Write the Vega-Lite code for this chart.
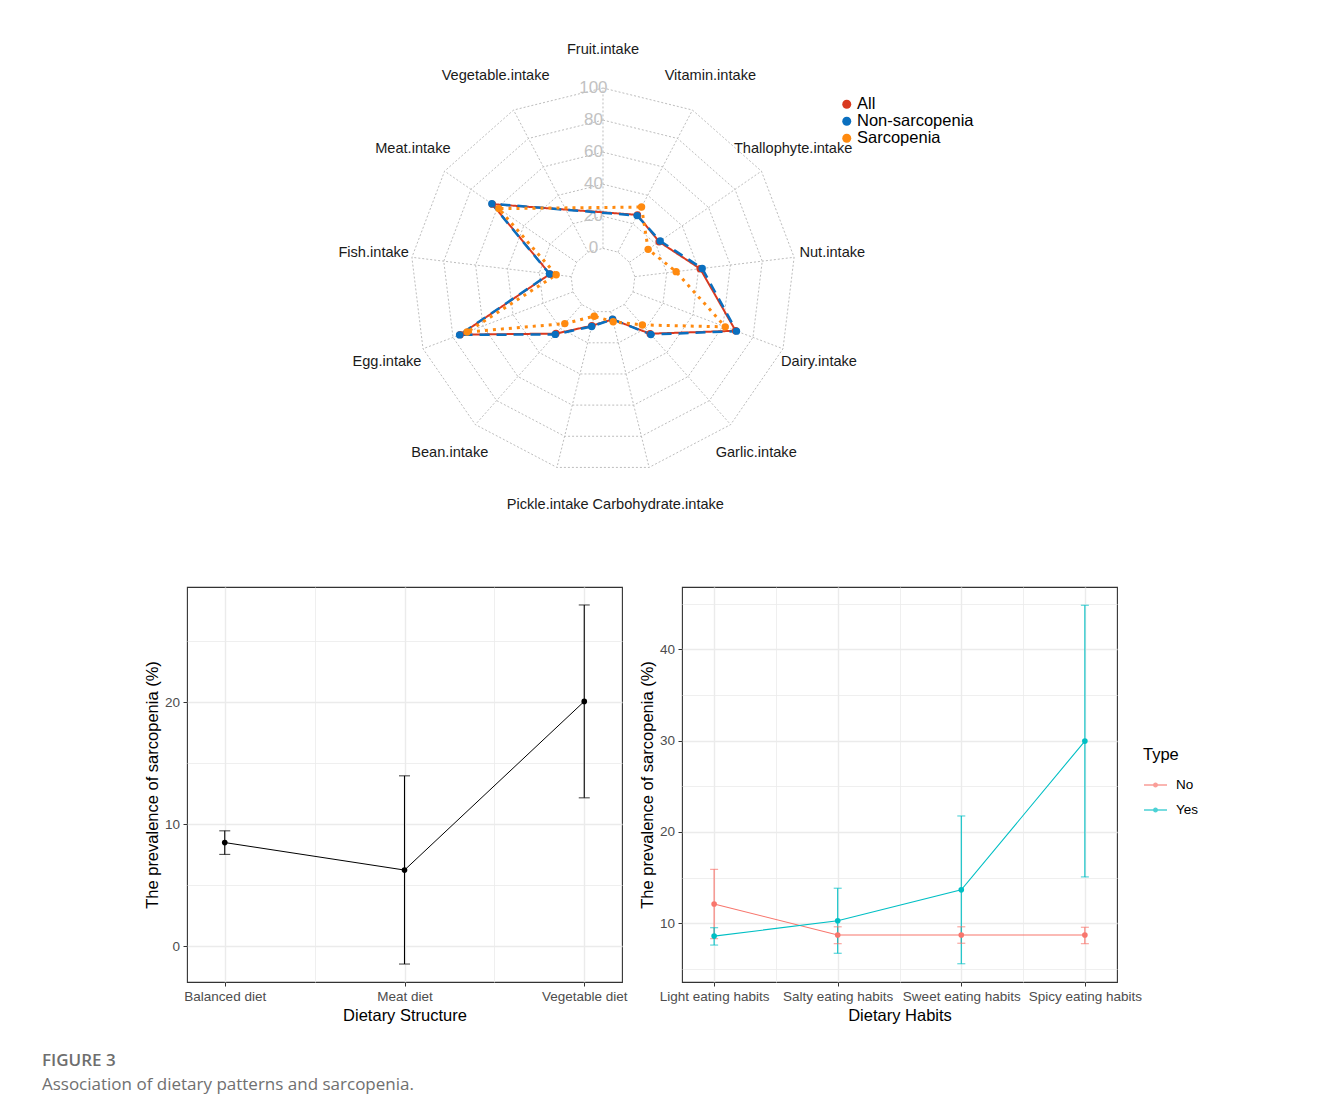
{
  "$schema": "https://vega.github.io/schema/vega-lite/v6.json",
  "background": "white",
  "padding": {"left": 41, "top": 30, "right": 5, "bottom": 5},
  "config": {
    "font": "Liberation Sans",
    "view": {"stroke": null},
    "axis": {
      "labelFont": "Liberation Sans", "labelFontSize": 13.5, "labelColor": "#4D4D4D",
      "titleFont": "Liberation Sans", "titleFontSize": 16.5, "titleColor": "#000000", "titleFontWeight": "normal",
      "tickColor": "#333333", "tickSize": 4, "tickWidth": 1, "domain": false,
      "gridColor": "#EBEBEB", "labelPadding": 3.5, "titlePadding": 4,
      "labelOverlap": false, "labelFlush": false
    }
  },
  "title": {
    "text": "FIGURE 3",
    "subtitle": "Association of dietary patterns and sarcopenia.",
    "orient": "bottom", "anchor": "start", "frame": "bounds",
    "dx": -102, "offset": 29,
    "font": "Open Sans", "fontSize": 17, "fontWeight": 600, "color": "#6E6E6E",
    "subtitleFont": "Open Sans", "subtitleFontSize": 17, "subtitleColor": "#707070", "subtitlePadding": 7
  },
  "datasets": {
    "axes": [
      {"axis": "Fruit.intake", "k": 0},
      {"axis": "Vitamin.intake", "k": 1},
      {"axis": "Thallophyte.intake", "k": 2},
      {"axis": "Nut.intake", "k": 3},
      {"axis": "Dairy.intake", "k": 4},
      {"axis": "Garlic.intake", "k": 5},
      {"axis": "Carbohydrate.intake", "k": 6},
      {"axis": "Pickle.intake", "k": 7},
      {"axis": "Bean.intake", "k": 8},
      {"axis": "Egg.intake", "k": 9},
      {"axis": "Fish.intake", "k": 10},
      {"axis": "Meat.intake", "k": 11},
      {"axis": "Vegetable.intake", "k": 12}
    ],
    "levels": [
      {"level": 0, "ks": [0,1,2,3,4,5,6,7,8,9,10,11,12]},
      {"level": 20, "ks": [0,1,2,3,4,5,6,7,8,9,10,11,12]},
      {"level": 40, "ks": [0,1,2,3,4,5,6,7,8,9,10,11,12]},
      {"level": 60, "ks": [0,1,2,3,4,5,6,7,8,9,10,11,12]},
      {"level": 80, "ks": [0,1,2,3,4,5,6,7,8,9,10,11,12]},
      {"level": 100, "ks": [0,1,2,3,4,5,6,7,8,9,10,11,12]}
    ],
    "radar": [
      {"series": "All", "axis": "Vitamin.intake", "k": 1, "value": 26.2},
      {"series": "All", "axis": "Thallophyte.intake", "k": 2, "value": 22.5},
      {"series": "All", "axis": "Nut.intake", "k": 3, "value": 41.0},
      {"series": "All", "axis": "Dairy.intake", "k": 4, "value": 68.4},
      {"series": "All", "axis": "Garlic.intake", "k": 5, "value": 24.3},
      {"series": "All", "axis": "Carbohydrate.intake", "k": 6, "value": 5.0},
      {"series": "All", "axis": "Pickle.intake", "k": 7, "value": 9.0},
      {"series": "All", "axis": "Bean.intake", "k": 8, "value": 24.2},
      {"series": "All", "axis": "Egg.intake", "k": 9, "value": 75.2},
      {"series": "All", "axis": "Fish.intake", "k": 10, "value": 13.3},
      {"series": "All", "axis": "Meat.intake", "k": 11, "value": 63.8},
      {"series": "Non-sarcopenia", "axis": "Vitamin.intake", "k": 1, "value": 25.7},
      {"series": "Non-sarcopenia", "axis": "Thallophyte.intake", "k": 2, "value": 23.3},
      {"series": "Non-sarcopenia", "axis": "Nut.intake", "k": 3, "value": 42.3},
      {"series": "Non-sarcopenia", "axis": "Dairy.intake", "k": 4, "value": 69.0},
      {"series": "Non-sarcopenia", "axis": "Garlic.intake", "k": 5, "value": 25.0},
      {"series": "Non-sarcopenia", "axis": "Carbohydrate.intake", "k": 6, "value": 4.9},
      {"series": "Non-sarcopenia", "axis": "Pickle.intake", "k": 7, "value": 9.5},
      {"series": "Non-sarcopenia", "axis": "Bean.intake", "k": 8, "value": 24.9},
      {"series": "Non-sarcopenia", "axis": "Egg.intake", "k": 9, "value": 75.6},
      {"series": "Non-sarcopenia", "axis": "Fish.intake", "k": 10, "value": 13.6},
      {"series": "Non-sarcopenia", "axis": "Meat.intake", "k": 11, "value": 64.2},
      {"series": "Sarcopenia", "axis": "Vitamin.intake", "k": 1, "value": 31.7},
      {"series": "Sarcopenia", "axis": "Thallophyte.intake", "k": 2, "value": 14.2},
      {"series": "Sarcopenia", "axis": "Nut.intake", "k": 3, "value": 25.9},
      {"series": "Sarcopenia", "axis": "Dairy.intake", "k": 4, "value": 61.5},
      {"series": "Sarcopenia", "axis": "Garlic.intake", "k": 5, "value": 17.0},
      {"series": "Sarcopenia", "axis": "Carbohydrate.intake", "k": 6, "value": 6.5},
      {"series": "Sarcopenia", "axis": "Pickle.intake", "k": 7, "value": 2.9},
      {"series": "Sarcopenia", "axis": "Bean.intake", "k": 8, "value": 15.9},
      {"series": "Sarcopenia", "axis": "Egg.intake", "k": 9, "value": 70.6},
      {"series": "Sarcopenia", "axis": "Fish.intake", "k": 10, "value": 9.4},
      {"series": "Sarcopenia", "axis": "Meat.intake", "k": 11, "value": 58.9}
    ],
    "structure": [
      {"diet": "Balanced diet", "prev": 8.5, "lo": 7.53, "hi": 9.46},
      {"diet": "Meat diet", "prev": 6.25, "lo": -1.44, "hi": 13.96},
      {"diet": "Vegetable diet", "prev": 20.05, "lo": 12.16, "hi": 27.94}
    ],
    "habits": [
      {"habit": "Light eating habits", "type": "No", "prev": 12.1, "lo": 8.3, "hi": 15.9},
      {"habit": "Salty eating habits", "type": "No", "prev": 8.7, "lo": 7.75, "hi": 9.6},
      {"habit": "Sweet eating habits", "type": "No", "prev": 8.7, "lo": 7.8, "hi": 9.6},
      {"habit": "Spicy eating habits", "type": "No", "prev": 8.7, "lo": 7.75, "hi": 9.55},
      {"habit": "Light eating habits", "type": "Yes", "prev": 8.58, "lo": 7.6, "hi": 9.5},
      {"habit": "Salty eating habits", "type": "Yes", "prev": 10.26, "lo": 6.7, "hi": 13.83},
      {"habit": "Sweet eating habits", "type": "Yes", "prev": 13.65, "lo": 5.55, "hi": 21.75},
      {"habit": "Spicy eating habits", "type": "Yes", "prev": 29.96, "lo": 15.07, "hi": 44.85}
    ]
  },
  "resolve": {"scale": {"color": "independent", "x": "independent", "y": "independent"}},
  "spacing": 56,
  "vconcat": [
    {
      "width": 1100,
      "height": 500,
      "view": {"stroke": null},
      "encoding": {
        "x": {"field": "px", "type": "quantitative", "scale": {"domain": [-2.161, 3.5532], "nice": false, "zero": false}, "axis": null},
        "y": {"field": "py", "type": "quantitative", "scale": {"domain": [-1.2961, 1.3013], "nice": false, "zero": false}, "axis": null}
      },
      "layer": [
        {
          "data": {"name": "levels"},
          "transform": [
            {"flatten": ["ks"], "as": ["k"]},
            {"calculate": "(datum.level + 20) / 120", "as": "r"},
            {"calculate": "datum.r * sin(datum.k * 2 * PI / 13)", "as": "px"},
            {"calculate": "datum.r * cos(datum.k * 2 * PI / 13)", "as": "py"}
          ],
          "mark": {"type": "line", "interpolate": "linear-closed", "color": "#BDBDBD", "strokeWidth": 1, "strokeDash": [2, 2]},
          "encoding": {"detail": {"field": "level", "type": "nominal"}, "order": {"field": "k", "type": "quantitative"}}
        },
        {
          "data": {"name": "axes"},
          "transform": [
            {"calculate": "sin(datum.k * 2 * PI / 13) / 6", "as": "px"},
            {"calculate": "cos(datum.k * 2 * PI / 13) / 6", "as": "py"},
            {"calculate": "sin(datum.k * 2 * PI / 13)", "as": "px2"},
            {"calculate": "cos(datum.k * 2 * PI / 13)", "as": "py2"}
          ],
          "mark": {"type": "rule", "color": "#BDBDBD", "strokeWidth": 1, "strokeDash": [2, 2]},
          "encoding": {"x2": {"field": "px2"}, "y2": {"field": "py2"}}
        },
        {
          "data": {"name": "levels"},
          "transform": [
            {"calculate": "-0.05", "as": "px"},
            {"calculate": "(datum.level + 20) / 120", "as": "py"}
          ],
          "mark": {"type": "text", "fontSize": 17, "color": "#C2C2C2", "font": "Liberation Sans"},
          "encoding": {"text": {"field": "level", "type": "nominal"}}
        },
        {
          "data": {"name": "axes"},
          "transform": [
            {"calculate": "1.2 * sin(datum.k * 2 * PI / 13)", "as": "px"},
            {"calculate": "1.2 * cos(datum.k * 2 * PI / 13)", "as": "py"}
          ],
          "mark": {"type": "text", "fontSize": 14.6, "color": "#1A1A1A", "font": "Liberation Sans"},
          "encoding": {"text": {"field": "axis", "type": "nominal"}}
        },
        {
          "data": {"name": "radar"},
          "transform": [
            {"calculate": "(datum.value + 20) / 120", "as": "r"},
            {"calculate": "datum.r * sin(datum.k * 2 * PI / 13)", "as": "px"},
            {"calculate": "datum.r * cos(datum.k * 2 * PI / 13)", "as": "py"}
          ],
          "mark": {"type": "line", "interpolate": "linear-closed"},
          "encoding": {
            "color": {"field": "series", "type": "nominal", "scale": {"domain": ["All", "Non-sarcopenia", "Sarcopenia"], "range": ["#D9391F", "#0A6FBF", "#FF8A0F"]}},
            "strokeDash": {"field": "series", "type": "nominal", "scale": {"domain": ["All", "Non-sarcopenia", "Sarcopenia"], "range": [[1, 0], [10, 7], [3, 5]]}, "legend": null},
            "strokeWidth": {"field": "series", "type": "ordinal", "scale": {"domain": ["All", "Non-sarcopenia", "Sarcopenia"], "range": [2, 3, 3]}, "legend": null},
            "order": {"field": "k", "type": "quantitative"}
          }
        },
        {
          "data": {"name": "radar"},
          "transform": [
            {"calculate": "(datum.value + 20) / 120", "as": "r"},
            {"calculate": "datum.r * sin(datum.k * 2 * PI / 13)", "as": "px"},
            {"calculate": "datum.r * cos(datum.k * 2 * PI / 13)", "as": "py"}
          ],
          "mark": {"type": "point", "filled": true, "size": 55, "opacity": 1},
          "encoding": {
            "color": {
              "field": "series", "type": "nominal",
              "scale": {"domain": ["All", "Non-sarcopenia", "Sarcopenia"], "range": ["#D9391F", "#0A6FBF", "#FF8A0F"]},
              "legend": {
                "orient": "none", "legendX": 651.5, "legendY": 66, "title": null, "padding": 0,
                "labelFont": "Liberation Sans", "labelFontSize": 16.5, "labelColor": "#000000",
                "symbolType": "circle", "symbolSize": 81, "symbolStrokeWidth": 0, "symbolDash": [1, 0],
                "rowPadding": 0, "labelOffset": 2
              }
            }
          }
        }
      ]
    },
    {
      "spacing": 10,
      "hconcat": [
        {
          "width": 435,
          "height": 395,
          "view": {"stroke": "#333333", "strokeWidth": 1.1},
          "data": {"name": "structure"},
          "transform": [{"calculate": "indexof(['Balanced diet','Meat diet','Vegetable diet'], datum.diet) + 1", "as": "code"}],
          "encoding": {
            "x": {
              "field": "code", "type": "quantitative",
              "scale": {"domain": [0.79, 3.21], "nice": false, "zero": false},
              "axis": {
                "title": "Dietary Structure",
                "values": [1, 1.5, 2, 2.5, 3],
                "labelExpr": "datum.value == 1 ? 'Balanced diet' : datum.value == 2 ? 'Meat diet' : datum.value == 3 ? 'Vegetable diet' : ''",
                "tickColor": {"condition": {"test": "datum.value % 1 != 0", "value": "transparent"}, "value": "#333333"},
                "gridWidth": {"condition": {"test": "datum.value % 1 != 0", "value": 0.8}, "value": 1.4}
              }
            }
          },
          "layer": [
            {
              "mark": {"type": "rule", "color": "#000000", "strokeWidth": 1.1},
              "encoding": {
                "y": {
                  "field": "lo", "type": "quantitative", "title": "The prevalence of sarcopenia (%)",
                  "scale": {"domain": [-2.91, 29.41], "nice": false, "zero": false},
                  "axis": {
                    "values": [0, 5, 10, 15, 20, 25],
                    "labelExpr": "datum.value % 10 == 0 ? datum.label : ''",
                    "tickColor": {"condition": {"test": "datum.value % 10 != 0", "value": "transparent"}, "value": "#333333"},
                    "gridWidth": {"condition": {"test": "datum.value % 10 != 0", "value": 0.8}, "value": 1.4}
                  }
                },
                "y2": {"field": "hi"}
              }
            },
            {
              "mark": {"type": "tick", "orient": "horizontal", "size": 11, "thickness": 1.1, "color": "#000000"},
              "encoding": {"y": {"field": "lo", "type": "quantitative", "title": "The prevalence of sarcopenia (%)"}}
            },
            {
              "mark": {"type": "tick", "orient": "horizontal", "size": 11, "thickness": 1.1, "color": "#000000"},
              "encoding": {"y": {"field": "hi", "type": "quantitative", "title": "The prevalence of sarcopenia (%)"}}
            },
            {
              "mark": {"type": "line", "color": "#000000", "strokeWidth": 1},
              "encoding": {"y": {"field": "prev", "type": "quantitative", "title": "The prevalence of sarcopenia (%)"}}
            },
            {
              "mark": {"type": "point", "filled": true, "color": "#000000", "size": 32, "opacity": 1},
              "encoding": {"y": {"field": "prev", "type": "quantitative", "title": "The prevalence of sarcopenia (%)"}}
            }
          ]
        },
        {
          "width": 435,
          "height": 395,
          "view": {"stroke": "#333333", "strokeWidth": 1.1},
          "data": {"name": "habits"},
          "transform": [{"calculate": "indexof(['Light eating habits','Salty eating habits','Sweet eating habits','Spicy eating habits'], datum.habit) + 1", "as": "code"}],
          "encoding": {
            "x": {
              "field": "code", "type": "quantitative",
              "scale": {"domain": [0.74, 4.26], "nice": false, "zero": false},
              "axis": {
                "title": "Dietary Habits",
                "values": [1, 1.5, 2, 2.5, 3, 3.5, 4],
                "labelExpr": "datum.value == 1 ? 'Light eating habits' : datum.value == 2 ? 'Salty eating habits' : datum.value == 3 ? 'Sweet eating habits' : datum.value == 4 ? 'Spicy eating habits' : ''",
                "tickColor": {"condition": {"test": "datum.value % 1 != 0", "value": "transparent"}, "value": "#333333"},
                "gridWidth": {"condition": {"test": "datum.value % 1 != 0", "value": 0.8}, "value": 1.4}
              }
            },
            "color": {
              "field": "type", "type": "nominal",
              "scale": {"domain": ["No", "Yes"], "range": ["#F8766D", "#00BFC4"]},
              "legend": {
                "orient": "none", "legendX": 956, "legendY": 160, "title": "Type", "padding": 0,
                "titleFont": "Liberation Sans", "titleFontSize": 16.5, "titleFontWeight": "normal", "titleColor": "#000000", "titlePadding": 9,
                "labelFont": "Liberation Sans", "labelFontSize": 13.5, "labelColor": "#000000", "labelOffset": 8,
                "symbolType": "M-1,0H1M0.16,0A0.16,0.16,0,1,1,-0.16,0A0.16,0.16,0,1,1,0.16,0Z",
                "symbolSize": 529, "symbolStrokeWidth": 1.3, "rowPadding": 6
              }
            }
          },
          "layer": [
            {
              "mark": {"type": "rule", "strokeWidth": 1.1},
              "encoding": {
                "y": {
                  "field": "lo", "type": "quantitative", "title": "The prevalence of sarcopenia (%)",
                  "scale": {"domain": [3.55, 46.85], "nice": false, "zero": false},
                  "axis": {
                    "values": [5, 10, 15, 20, 25, 30, 35, 40, 45],
                    "labelExpr": "datum.value % 10 == 0 ? datum.label : ''",
                    "tickColor": {"condition": {"test": "datum.value % 10 != 0", "value": "transparent"}, "value": "#333333"},
                    "gridWidth": {"condition": {"test": "datum.value % 10 != 0", "value": 0.8}, "value": 1.4}
                  }
                },
                "y2": {"field": "hi"}
              }
            },
            {
              "mark": {"type": "tick", "orient": "horizontal", "size": 8, "thickness": 1.1},
              "encoding": {"y": {"field": "lo", "type": "quantitative", "title": "The prevalence of sarcopenia (%)"}}
            },
            {
              "mark": {"type": "tick", "orient": "horizontal", "size": 8, "thickness": 1.1},
              "encoding": {"y": {"field": "hi", "type": "quantitative", "title": "The prevalence of sarcopenia (%)"}}
            },
            {
              "mark": {"type": "line", "strokeWidth": 1.1},
              "encoding": {"y": {"field": "prev", "type": "quantitative", "title": "The prevalence of sarcopenia (%)"}}
            },
            {
              "mark": {"type": "point", "filled": true, "size": 32, "opacity": 1},
              "encoding": {"y": {"field": "prev", "type": "quantitative", "title": "The prevalence of sarcopenia (%)"}}
            }
          ]
        }
      ]
    }
  ]
}
